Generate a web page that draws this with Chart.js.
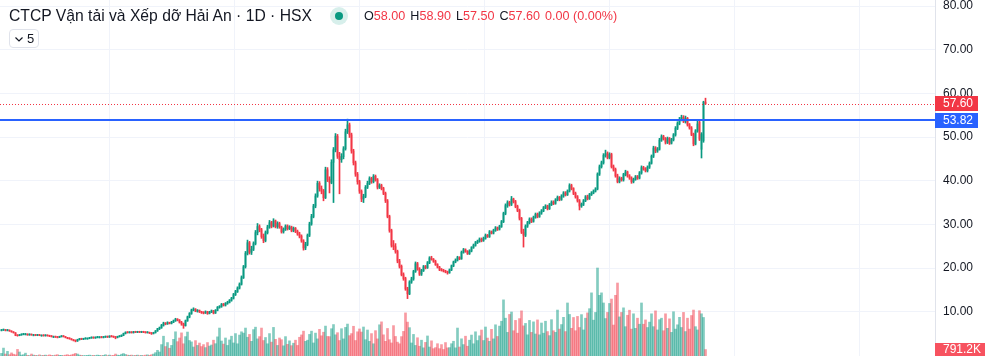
<!DOCTYPE html>
<html><head><meta charset="utf-8">
<script src="https://cdn.jsdelivr.net/npm/chart.js@4/dist/chart.umd.min.js"></script>
<style>
html,body{margin:0;padding:0;background:#fff;overflow:hidden}
#wrap{position:relative;width:987px;height:356px}
#c{position:absolute;left:0;top:0}
.hd{position:absolute;font-family:"Liberation Sans",Arial,sans-serif;color:#131722;white-space:nowrap}
#title{left:9px;top:6px;font-size:15.7px;line-height:19px}
#dot{position:absolute;left:330px;top:7px;width:18px;height:18px;border-radius:50%;background:rgba(8,153,129,0.16)}
#dot i{position:absolute;left:5px;top:5px;width:8px;height:8px;border-radius:50%;background:#089981}
#ohlc{left:364px;top:9px;font-size:12.6px;line-height:15px}
#ohlc b{font-weight:normal;color:#131722}
#ohlc span{color:#F23645;margin-right:5px}
#ind{position:absolute;left:9px;top:29px;width:30px;height:19px;border:1px solid #e0e3eb;border-radius:4px;box-sizing:border-box;font-family:"Liberation Sans",Arial,sans-serif;font-size:13px;color:#131722}
#ind svg{position:absolute;left:5px;top:7px}
#ind em{position:absolute;left:17px;top:1px;font-style:normal;line-height:15px}
</style></head>
<body><div id="wrap">
<canvas id="c" width="987" height="356"></canvas>
<div class="hd" id="title">CTCP Vận tải và Xếp dỡ Hải An · 1D · HSX</div>
<div id="dot"><i></i></div>
<div class="hd" id="ohlc"><b>O</b><span>58.00</span><b>H</b><span>58.90</span><b>L</b><span>57.50</span><b>C</b><span>57.60</span><span>0.00 (0.00%)</span></div>
<div id="ind"><svg width="8" height="5" viewBox="0 0 8 5"><path d="M0.5 0.5 L4 4 L7.5 0.5" fill="none" stroke="#131722" stroke-width="1.2"/></svg><em>5</em></div>
</div>
<script>
const opens=[5.7,5.8,5.9,5.7,5.8,5.6,5.4,5.2,4.6,4.5,
4.7,4.8,4.9,4.9,4.7,4.8,4.7,4.7,4.6,4.7,
4.6,4.6,4.5,4.6,4.5,4.4,4.3,4.3,4.2,4.1,
4.3,4.4,4.3,4.1,3.9,3.8,3.6,3.4,3.3,3.6,
3.8,3.7,3.8,3.9,3.9,4.0,4.1,4.0,4.1,4.2,
4.2,4.1,4.2,4.3,4.2,4.4,4.3,4.2,4.1,4.3,
4.4,4.6,5.0,5.3,5.2,5.3,5.2,5.4,5.3,5.4,
5.3,5.4,5.3,5.2,5.3,5.1,5.0,5.2,5.6,6.1,
6.3,6.9,7.4,7.2,7.5,7.3,7.6,7.9,8.3,8.1,
7.6,7.2,6.8,7.9,8.8,9.6,10.4,10.6,10.1,10.3,
10.0,9.8,9.7,10.0,9.6,9.9,10.2,9.7,10.3,11.0,
11.2,11.7,11.5,11.9,12.1,12.6,13.1,13.9,14.6,15.4,
16.3,17.8,20.3,23.4,25.8,23.6,24.3,25.6,28.1,29.5,
28.8,27.2,26.3,28.1,29.4,30.4,29.6,30.8,29.5,30.2,
29.4,28.3,28.9,29.6,29.0,29.4,28.6,29.1,28.4,27.8,
27.3,26.2,24.6,25.4,27.5,30.1,31.8,34.2,36.5,39.4,
38.2,37.6,36.1,42.5,40.3,39.6,44.2,47.1,50.2,45.6,
44.8,45.5,47.3,51.2,52.8,50.5,46.8,44.1,41.5,39.8,
37.6,35.8,36.4,38.5,39.4,40.5,39.8,41.0,40.2,38.5,
38.9,38.2,37.1,35.4,31.8,28.6,25.2,24.9,23.8,21.6,
20.4,18.5,17.6,15.2,14.1,16.8,17.5,19.2,21.0,19.8,
18.6,19.4,20.3,20.1,21.2,22.3,22.0,21.5,20.8,20.2,
19.7,19.5,19.3,19.1,18.9,19.6,20.5,21.4,21.8,22.4,
22.1,23.6,24.2,23.8,23.3,23.9,24.7,25.2,25.8,26.1,
26.6,26.3,26.8,27.5,27.2,28.3,28.0,28.6,29.2,28.9,
29.5,30.6,32.5,34.3,35.0,34.6,35.8,35.2,34.1,33.2,
31.4,28.2,27.5,29.6,30.4,31.2,30.7,31.6,32.3,31.8,
32.6,33.1,33.8,34.2,33.6,34.5,35.1,34.8,35.6,36.2,
35.7,36.5,37.2,36.8,37.6,38.9,38.2,37.1,36.3,35.4,
34.2,34.6,35.4,36.3,35.9,36.8,37.2,37.6,38.1,41.5,
43.2,44.1,45.8,46.2,45.3,46.0,43.2,42.6,41.1,39.8,
40.5,40.2,41.4,42.0,41.1,40.6,39.8,40.3,40.9,40.6,
41.8,43.0,42.7,42.3,43.1,44.0,45.6,47.5,46.8,47.2,
49.3,50.1,49.6,48.8,49.7,48.6,49.4,50.5,52.0,53.1,
54.0,54.5,53.6,54.3,52.8,52.1,50.6,48.4,51.4,53.4,
47.2,49.2,58.0];
const highs=[5.9,6.0,5.9,5.9,5.8,5.6,5.4,5.2,4.7,4.8,
4.9,5.0,5.0,4.9,4.9,4.8,4.8,4.7,4.8,4.7,
4.7,4.7,4.7,4.6,4.5,4.5,4.4,4.3,4.3,4.4,
4.5,4.5,4.3,4.1,4.0,3.8,3.6,3.5,3.7,3.9,
3.9,3.9,4.0,4.0,4.1,4.2,4.2,4.2,4.3,4.3,
4.3,4.3,4.4,4.4,4.5,4.5,4.4,4.3,4.4,4.5,
4.7,5.1,5.4,5.4,5.4,5.4,5.5,5.5,5.5,5.5,
5.5,5.5,5.4,5.4,5.3,5.2,5.3,5.7,6.2,6.5,
7.1,7.6,7.5,7.7,7.6,7.8,8.1,8.5,8.4,8.2,
7.8,7.4,8.1,9.0,9.8,10.6,10.9,10.7,10.5,10.4,
10.1,10.0,10.2,10.1,10.1,10.4,10.3,10.5,11.2,11.4,
11.9,11.9,12.1,12.4,12.8,13.3,14.2,14.9,15.7,16.6,
18.2,20.6,23.8,26.4,26.1,25.0,26.0,28.6,30.2,29.9,
29.1,27.8,28.5,29.8,30.9,30.7,31.3,31.0,30.6,30.5,
29.6,29.2,29.9,29.9,29.7,29.6,29.4,29.3,28.7,28.2,
27.6,26.5,25.9,27.8,30.5,32.3,34.6,37.0,39.9,39.8,
38.8,38.0,43.1,43.0,40.9,44.8,47.6,50.8,50.6,46.5,
46.2,47.8,51.8,54.1,53.2,50.9,47.2,44.5,41.9,40.1,
37.9,36.9,38.9,39.9,40.9,40.8,41.4,41.3,40.5,39.3,
39.2,38.5,37.4,35.7,32.1,28.9,26.3,25.6,24.1,22.0,
20.7,18.9,17.9,15.6,17.1,17.9,19.5,21.4,21.3,20.1,
19.7,20.6,20.6,21.5,22.6,22.7,22.2,21.8,21.0,20.4,
19.9,19.7,19.5,19.3,19.8,20.7,21.6,22.1,22.7,22.6,
23.9,24.5,24.4,24.0,24.2,24.9,25.5,26.1,26.4,26.9,
26.9,27.1,27.8,27.7,28.6,28.5,28.9,29.5,29.4,29.8,
30.9,32.8,34.7,35.4,35.3,36.4,36.0,35.5,34.4,33.5,
31.6,28.9,29.9,30.7,31.5,31.5,31.9,32.6,32.6,32.9,
33.4,34.1,34.5,34.4,34.8,35.4,35.4,35.9,36.5,36.4,
36.8,37.5,37.5,37.9,39.3,39.2,38.4,37.4,36.6,35.7,
34.9,35.7,36.6,36.7,37.1,37.5,37.9,38.4,41.8,43.6,
44.5,46.2,47.0,46.6,46.4,46.3,43.6,42.9,41.5,40.9,
40.8,41.7,42.4,42.2,41.4,40.9,40.6,41.2,41.2,42.1,
43.4,43.3,43.0,43.4,44.3,45.9,47.9,47.8,47.6,49.7,
50.5,50.4,49.9,50.0,49.9,49.7,50.8,52.4,53.5,54.5,
55.0,54.9,54.8,54.5,53.1,52.4,50.9,51.7,53.6,53.7,
51.0,58.2,58.9];
const lows=[5.6,5.7,5.6,5.6,5.5,5.3,5.1,4.5,4.4,4.5,
4.6,4.7,4.8,4.6,4.6,4.6,4.6,4.5,4.5,4.5,
4.5,4.4,4.4,4.4,4.3,4.2,4.2,4.1,4.0,4.1,
4.2,4.2,4.0,3.8,3.7,3.5,3.3,3.1,3.2,3.5,
3.6,3.6,3.7,3.8,3.8,3.9,3.9,3.9,4.0,4.1,
4.0,4.0,4.1,4.1,4.1,4.2,4.1,3.8,4.0,4.2,
4.3,4.5,4.9,5.1,5.1,5.1,5.1,5.2,5.2,5.2,
5.2,5.2,5.1,5.1,5.0,4.8,4.9,5.1,5.5,5.9,
6.2,6.7,7.0,7.1,7.2,7.2,7.5,7.8,7.9,7.4,
6.9,6.2,6.7,7.8,8.6,9.4,10.2,10.0,9.9,9.8,
9.6,9.5,9.6,9.4,9.5,9.8,9.5,9.6,10.2,10.8,
11.0,11.3,11.3,11.7,12.0,12.4,12.9,13.7,14.4,15.2,
16.1,17.6,20.0,23.0,23.2,23.1,24.0,25.3,27.6,28.3,
26.8,25.8,26.0,27.8,29.1,29.2,29.4,29.2,29.1,29.1,
28.0,28.0,28.6,28.7,28.8,28.3,28.3,28.1,27.5,26.9,
25.9,24.1,24.2,25.1,27.2,29.8,31.5,33.8,36.2,37.6,
37.0,35.4,35.9,39.8,37.2,39.3,35.0,46.6,45.1,37.0,
44.2,45.0,47.0,50.8,49.9,46.3,43.6,41.0,39.2,37.1,
35.2,35.0,36.1,38.2,39.1,39.4,39.5,39.9,38.1,38.2,
37.9,36.8,35.0,31.5,28.2,24.8,24.2,23.4,21.2,20.0,
18.2,17.2,14.9,13.0,13.9,16.5,17.2,19.0,19.5,18.3,
18.3,19.2,19.8,19.9,21.0,21.8,21.3,20.6,20.0,19.4,
19.3,19.1,18.9,18.6,18.8,19.4,20.3,21.2,21.6,21.9,
22.0,23.4,23.6,23.1,23.1,23.7,24.5,25.0,25.6,25.9,
26.0,26.1,26.6,27.0,27.0,27.8,27.8,28.4,28.6,28.7,
29.3,30.4,32.2,33.9,34.2,34.3,34.9,33.8,32.9,31.0,
27.9,24.8,27.2,29.3,30.1,30.4,30.5,31.4,31.5,31.6,
32.3,32.9,33.6,33.3,33.4,34.3,34.5,34.6,35.4,35.4,
35.5,36.2,36.5,36.6,37.4,37.9,36.8,36.0,35.1,33.3,
33.9,34.3,35.2,35.6,35.7,36.6,37.0,37.4,37.9,41.2,
42.9,43.8,45.4,45.0,45.0,42.9,42.2,40.8,39.5,39.5,
39.9,39.9,41.1,40.8,40.3,39.4,39.5,40.1,40.3,40.4,
41.5,42.4,42.0,42.0,42.8,43.8,45.3,46.4,46.5,47.0,
49.0,49.3,48.4,48.5,48.3,48.4,49.1,50.2,51.7,52.8,
53.7,53.3,53.2,52.5,51.8,50.3,48.0,48.2,51.1,49.2,
45.2,48.8,57.5];
const closes=[5.8,5.9,5.7,5.8,5.6,5.4,5.2,4.6,4.5,4.7,
4.8,4.9,4.9,4.7,4.8,4.7,4.7,4.6,4.7,4.6,
4.6,4.5,4.6,4.5,4.4,4.3,4.3,4.2,4.1,4.3,
4.4,4.3,4.1,3.9,3.8,3.6,3.4,3.3,3.6,3.8,
3.7,3.8,3.9,3.9,4.0,4.1,4.0,4.1,4.2,4.2,
4.1,4.2,4.3,4.2,4.4,4.3,4.2,4.1,4.3,4.4,
4.6,5.0,5.3,5.2,5.3,5.2,5.4,5.3,5.4,5.3,
5.4,5.3,5.2,5.3,5.1,5.0,5.2,5.6,6.1,6.3,
6.9,7.4,7.2,7.5,7.3,7.6,7.9,8.3,8.1,7.6,
7.2,6.8,7.9,8.8,9.6,10.4,10.6,10.1,10.3,10.0,
9.8,9.7,10.0,9.6,9.9,10.2,9.7,10.3,11.0,11.2,
11.7,11.5,11.9,12.1,12.6,13.1,13.9,14.6,15.4,16.3,
17.8,20.3,23.4,25.8,23.6,24.3,25.6,28.1,29.5,28.8,
27.2,26.3,28.1,29.4,30.4,29.6,30.8,29.5,30.2,29.4,
28.3,28.9,29.6,29.0,29.4,28.6,29.1,28.4,27.8,27.3,
26.2,24.6,25.4,27.5,30.1,31.8,34.2,36.5,39.4,38.2,
37.6,36.1,42.5,40.3,39.6,44.2,47.1,50.2,45.6,44.8,
45.5,47.3,51.2,52.8,50.5,46.8,44.1,41.5,39.8,37.6,
35.8,36.4,38.5,39.4,40.5,39.8,41.0,40.2,38.5,38.9,
38.2,37.1,35.4,31.8,28.6,25.2,24.9,23.8,21.6,20.4,
18.5,17.6,15.2,14.1,16.8,17.5,19.2,21.0,19.8,18.6,
19.4,20.3,20.1,21.2,22.3,22.0,21.5,20.8,20.2,19.7,
19.5,19.3,19.1,18.9,19.6,20.5,21.4,21.8,22.4,22.1,
23.6,24.2,23.8,23.3,23.9,24.7,25.2,25.8,26.1,26.6,
26.3,26.8,27.5,27.2,28.3,28.0,28.6,29.2,28.9,29.5,
30.6,32.5,34.3,35.0,34.6,35.8,35.2,34.1,33.2,31.4,
28.2,27.5,29.6,30.4,31.2,30.7,31.6,32.3,31.8,32.6,
33.1,33.8,34.2,33.6,34.5,35.1,34.8,35.6,36.2,35.7,
36.5,37.2,36.8,37.6,38.9,38.2,37.1,36.3,35.4,34.2,
34.6,35.4,36.3,35.9,36.8,37.2,37.6,38.1,41.5,43.2,
44.1,45.8,46.2,45.3,46.0,43.2,42.6,41.1,39.8,40.5,
40.2,41.4,42.0,41.1,40.6,39.8,40.3,40.9,40.6,41.8,
43.0,42.7,42.3,43.1,44.0,45.6,47.5,46.8,47.2,49.3,
50.1,49.6,48.8,49.7,48.6,49.4,50.5,52.0,53.1,54.0,
54.5,53.6,54.3,52.8,52.1,50.6,48.4,51.4,53.0,49.5,
50.6,58.0,57.6];
const volumes=[320,970,240,570,160,380,220,140,810,490,
110,160,350,80,50,240,110,80,50,140,
50,80,110,50,140,80,50,110,160,80,
80,50,110,160,80,140,220,320,240,110,
80,50,50,80,110,50,80,50,110,80,
50,80,160,50,110,50,80,240,110,80,
220,300,190,110,80,110,50,80,110,50,
80,50,110,140,80,160,240,410,700,490,
1400,2430,1160,1650,950,1300,2050,2970,1760,2210,
2840,1500,2380,2940,1900,1730,1100,1890,1300,1590,
1160,1400,1030,1650,1220,1350,1940,1510,2350,3430,
1840,1460,2210,1300,1970,2430,1600,2750,1500,2570,
2970,2810,3430,2300,2650,1800,3240,3540,2100,2380,
3430,1900,2270,1500,2750,1700,3510,2050,1300,2210,
2000,1250,2380,1430,1860,1270,1570,1940,1300,2300,
2590,3050,1800,1940,2650,3050,1600,2810,2100,3270,
2480,2920,3670,2400,2380,3350,3860,2600,2860,1900,
3350,2100,3510,3920,2500,2750,3650,1900,2970,3320,
2940,3560,2000,3190,1800,2750,1500,3110,2100,3830,
4190,2600,1800,3380,2000,1600,3730,2400,1700,1500,
2380,3020,5290,4160,3480,1600,2650,1300,2240,1200,
1940,1000,1670,2460,1100,1860,900,1030,1510,900,
1400,800,1650,1000,1030,1510,1810,1000,3430,1100,
2110,1400,2430,1200,1940,2570,1500,2970,1900,2480,
3190,1900,3560,2200,1800,3270,2100,3830,2400,3670,
4270,6890,4640,2900,5100,5400,3100,4370,2800,4590,
5540,3700,4000,2600,4370,2900,4190,2700,4430,2600,
4050,2800,4270,3000,2500,4460,3100,2900,5640,3300,
3860,4750,3000,6510,5100,3400,4730,3100,4860,3500,
5080,3200,4640,5290,5810,7750,4400,5350,10800,7450,
7750,6510,4600,5350,6450,6990,3800,7450,8960,4800,
5350,5910,3600,5000,5620,3300,5180,3400,4640,3900,
6510,3900,4430,3500,4160,5180,3600,5540,3200,4460,
4640,3100,5180,3400,4560,2900,5430,3300,3830,4750,
3500,5350,3000,4640,3300,4970,5640,3600,3200,5560,
5180,4730,791.2];
const priceTicks=[10,20,30,40,50,60,70,80];
const timeGridIdx=[22.75,85.25,147.75,210.25,272.75,335.25,397.75,460.25];
const alertLevel=53.82;
const lastPrice=57.60;

const UP='#089981', DOWN='#F23645';
const n=closes.length;
const idx=[...Array(n).keys()];
const isUp=idx.map(i=>closes[i]>=opens[i]);
const candleCol=idx.map(i=>isUp[i]?UP:DOWN);
const volCol=idx.map(i=>isUp[i]?'rgba(8,153,129,0.5)':'rgba(242,54,69,0.5)');
const FONT='"Liberation Sans", Arial, sans-serif';

function box(ctx,x,y,w,h,bg,text){
  ctx.fillStyle=bg;ctx.fillRect(x,y,w,h);
  ctx.fillStyle='#ffffff';ctx.font='12px '+FONT;ctx.textBaseline='middle';ctx.textAlign='left';
  ctx.fillText(text,x+8,y+h/2+0.5);
}
const overlay={
  id:'overlay',
  afterDatasetsDraw(chart){
    const {ctx,chartArea:a,scales:{y}}=chart;
    ctx.save();
    const yp=Math.round(y.getPixelForValue(lastPrice))+0.5;
    ctx.strokeStyle=DOWN;ctx.lineWidth=1;ctx.setLineDash([1,2]);
    ctx.beginPath();ctx.moveTo(a.left,yp);ctx.lineTo(a.right,yp);ctx.stroke();
    ctx.setLineDash([]);
    const yb=Math.round(y.getPixelForValue(alertLevel));
    ctx.strokeStyle='#2962FF';ctx.lineWidth=2;
    ctx.beginPath();ctx.moveTo(a.left,yb);ctx.lineTo(a.right,yb);ctx.stroke();
    ctx.restore();
  },
  afterDraw(chart){
    const {ctx,chartArea:a,scales:{y,yv}}=chart;
    ctx.save();
    const yp=y.getPixelForValue(lastPrice);
    box(ctx,a.right,Math.round(yp-7.5),43,15,DOWN,lastPrice.toFixed(2));
    const yb=y.getPixelForValue(alertLevel);
    box(ctx,a.right,Math.round(yb-7.5),43,15,'#2962FF',alertLevel.toFixed(2));
    const lv=volumes[n-1];
    const yvp=Math.min(yv.getPixelForValue(lv)-7,a.bottom-13);
    box(ctx,a.right,Math.round(yvp),50,13,'#F7525F',lv.toFixed(1)+'K');
    ctx.restore();
  }
};

new Chart(document.getElementById('c'),{
  data:{datasets:[
    {type:'bar',label:'Volume',yAxisID:'yv',data:idx.map(i=>({x:i,y:volumes[i]})),backgroundColor:volCol,barThickness:2,grouped:false,borderWidth:0,order:3},
    {type:'bar',label:'Wick',yAxisID:'y',data:idx.map(i=>({x:i,y:[lows[i],highs[i]]})),backgroundColor:candleCol,barThickness:1,minBarLength:1,grouped:false,borderWidth:0,order:2},
    {type:'bar',label:'Body',yAxisID:'y',data:idx.map(i=>({x:i,y:[opens[i],closes[i]]})),backgroundColor:candleCol,barThickness:1,minBarLength:1,grouped:false,borderWidth:0,order:1}
  ]},
  options:{
    responsive:false,animation:false,devicePixelRatio:1,
    layout:{padding:0},
    plugins:{legend:{display:false},tooltip:{enabled:false}},
    scales:{
      x:{type:'linear',min:-0.75,max:466.75,offset:false,
        grid:{color:'#f0f3fa',drawTicks:false},border:{display:false},ticks:{display:false},
        afterBuildTicks:s=>{s.ticks=timeGridIdx.map(v=>({value:v}));},
        afterFit:s=>{s.height=0;s.paddingLeft=0;s.paddingRight=0;s.paddingTop=0;s.paddingBottom=0;}},
      y:{position:'right',min:-0.14,max:81.38,
        grid:{color:'#f0f3fa',drawTicks:false},border:{display:true,color:'#e0e3eb'},
        ticks:{padding:8,color:'#131722',font:{family:FONT,size:12},callback:v=>Number(v).toFixed(2)},
        afterBuildTicks:s=>{s.ticks=priceTicks.map(v=>({value:v}));},
        afterFit:s=>{s.width=52;s.paddingTop=0;s.paddingBottom=0;s.paddingLeft=0;s.paddingRight=0;}},
      yv:{display:false,min:0,max:43700}
    }
  },
  plugins:[overlay]
});
</script>
</body></html>
